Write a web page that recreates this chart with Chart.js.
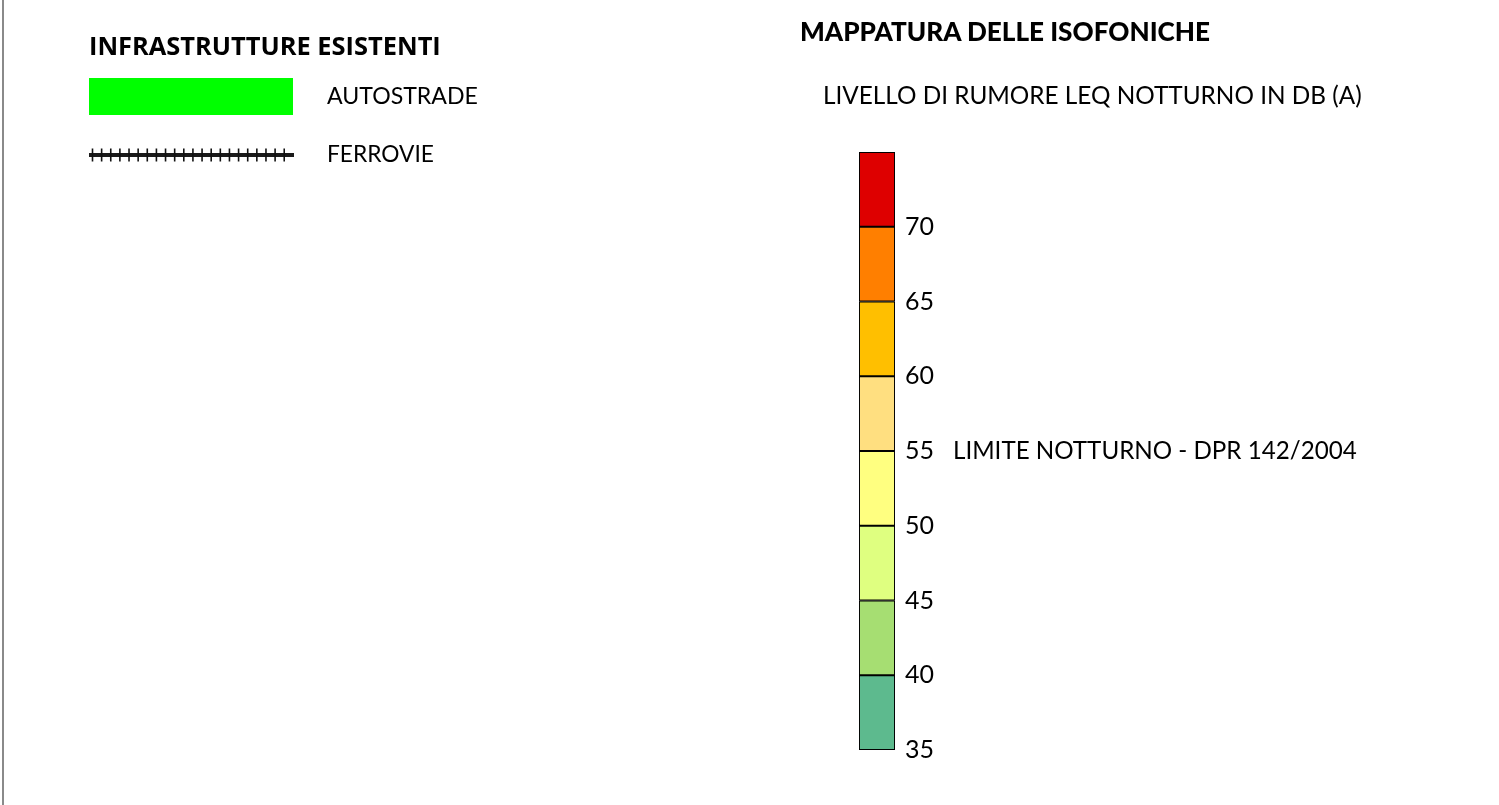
<!DOCTYPE html>
<html><head><meta charset="utf-8">
<script src="https://cdn.jsdelivr.net/npm/chart.js@4.4.1/dist/chart.umd.min.js"></script>
<style>
html,body{margin:0;padding:0;background:#fff;overflow:hidden;}
body{width:1499px;height:805px;position:relative;}
#c{position:absolute;left:0;top:0;}
#edge{position:absolute;left:2px;top:0;width:2px;height:805px;background:#8a8a8a;}
.t{position:absolute;white-space:nowrap;line-height:1;color:#000;display:inline-block;}
#green{position:absolute;left:89px;top:78px;width:204px;height:37px;background:#00ff00;}
#rail{position:absolute;left:85px;top:143px;}
</style></head>
<body>
<canvas id="c" width="1499" height="805"></canvas>
<div id="edge"></div>
<div id="green"></div>
<svg id="rail" width="215" height="24"></svg>
<div class="t" id="t1" style="font-family:'Open Sans';font-weight:700">INFRASTRUTTURE ESISTENTI</div>
<div class="t" id="t2" style="font-family:'Lato'">AUTOSTRADE</div>
<div class="t" id="t3" style="font-family:'Lato'">FERROVIE</div>
<div class="t" id="t4" style="font-family:'Lato';font-weight:900">MAPPATURA DELLE ISOFONICHE</div>
<div class="t" id="t5" style="font-family:'Lato'">LIVELLO DI RUMORE LEQ NOTTURNO IN DB (A)</div>
<script>
// ---- data ----
const categories = ['Leq notturno'];
const bandLow  = [35, 40, 45, 50, 55, 60, 65, 70];
const bandHigh = [40, 45, 50, 55, 60, 65, 70, 75];
const bandColors = ['#5dba8e', '#a6de72', '#dfff80', '#ffff80', '#ffdf80', '#ffbf00', '#ff7f00', '#de0000'];
const tickValues = [35, 40, 45, 50, 55, 60, 65, 70];
const limitValue = 55;
const limitLabel = 'LIMITE NOTTURNO - DPR 142/2004';

// ---- railway legend symbol ----
(function(){
  const svg = document.getElementById('rail');
  const ns = 'http://www.w3.org/2000/svg';
  const ln = document.createElementNS(ns,'line');
  ln.setAttribute('x1',4); ln.setAttribute('x2',209); ln.setAttribute('y1',12); ln.setAttribute('y2',12);
  ln.setAttribute('stroke','#1a1a1a'); ln.setAttribute('stroke-width',4);
  svg.appendChild(ln);
  for (let i=0;i<22;i++){
    const x = 7.5 + i*9.13;
    const t = document.createElementNS(ns,'line');
    t.setAttribute('x1',x); t.setAttribute('x2',x); t.setAttribute('y1',5.5); t.setAttribute('y2',18.5);
    t.setAttribute('stroke','#111'); t.setAttribute('stroke-width',1.6);
    svg.appendChild(t);
  }
})();

function place(id, x, capTop, targetW, k){
  const el = document.getElementById(id);
  el.style.fontSize = '24px';
  const w = el.getBoundingClientRect().width;
  const fs = 24 * targetW / w;
  el.style.fontSize = fs + 'px';
  el.style.left = x + 'px';
  el.style.top = (capTop - k*fs) + 'px';
}

const limitPlugin = {
  id: 'limitLabel',
  afterDraw(chart){
    const y = chart.scales.y.getPixelForValue(limitValue);
    const ctx = chart.ctx;
    ctx.save();
    ctx.font = '24px Lato';
    const w = ctx.measureText(limitLabel).width;
    const fs = 24 * 404 / w;
    ctx.font = fs + 'px Lato';
    ctx.fillStyle = '#000';
    ctx.textBaseline = 'middle';
    ctx.textAlign = 'left';
    ctx.fillText(limitLabel, chart.chartArea.right + 58, y);
    ctx.restore();
  }
};

function init(){
  place('t1', 89, 37, 352, 0.174);
  place('t2', 327, 88, 151, 0.164);
  place('t3', 327, 147, 107, 0.164);
  place('t4', 800, 22, 410, 0.164);
  place('t5', 823, 87, 539, 0.164);

  new Chart(document.getElementById('c'), {
    type: 'bar',
    data: {
      labels: categories,
      datasets: bandLow.map((lo, i) => ({
        label: lo + '-' + bandHigh[i],
        data: [[lo, bandHigh[i]]],
        backgroundColor: bandColors[i],
        borderColor: '#000',
        borderWidth: 1.3,
        borderSkipped: false,
        grouped: false,
        barPercentage: 1,
        categoryPercentage: 1
      }))
    },
    options: {
      responsive: false,
      animation: false,
      devicePixelRatio: 1,
      layout: { padding: { left: 859, top: 152, bottom: 55, right: 544 } },
      plugins: { legend: { display: false }, title: { display: false }, tooltip: { enabled: false } },
      scales: {
        x: { display: false },
        y: {
          position: 'right',
          min: 35, max: 75,
          grid: { display: false, drawTicks: false },
          border: { display: false },
          afterFit: s => { s.width = 60; },
          ticks: {
            stepSize: 5,
            autoSkip: false,
            padding: 10,
            color: '#000',
            font: { family: 'Lato', size: 25 },
            callback: v => tickValues.includes(v) ? String(v) : null
          }
        }
      }
    },
    plugins: [limitPlugin]
  });
}
Promise.all([
  document.fonts.load('24px Lato'),
  document.fonts.load('900 24px Lato'),
  document.fonts.load('700 24px "Open Sans"')
]).then(init, init);
</script>
</body></html>
